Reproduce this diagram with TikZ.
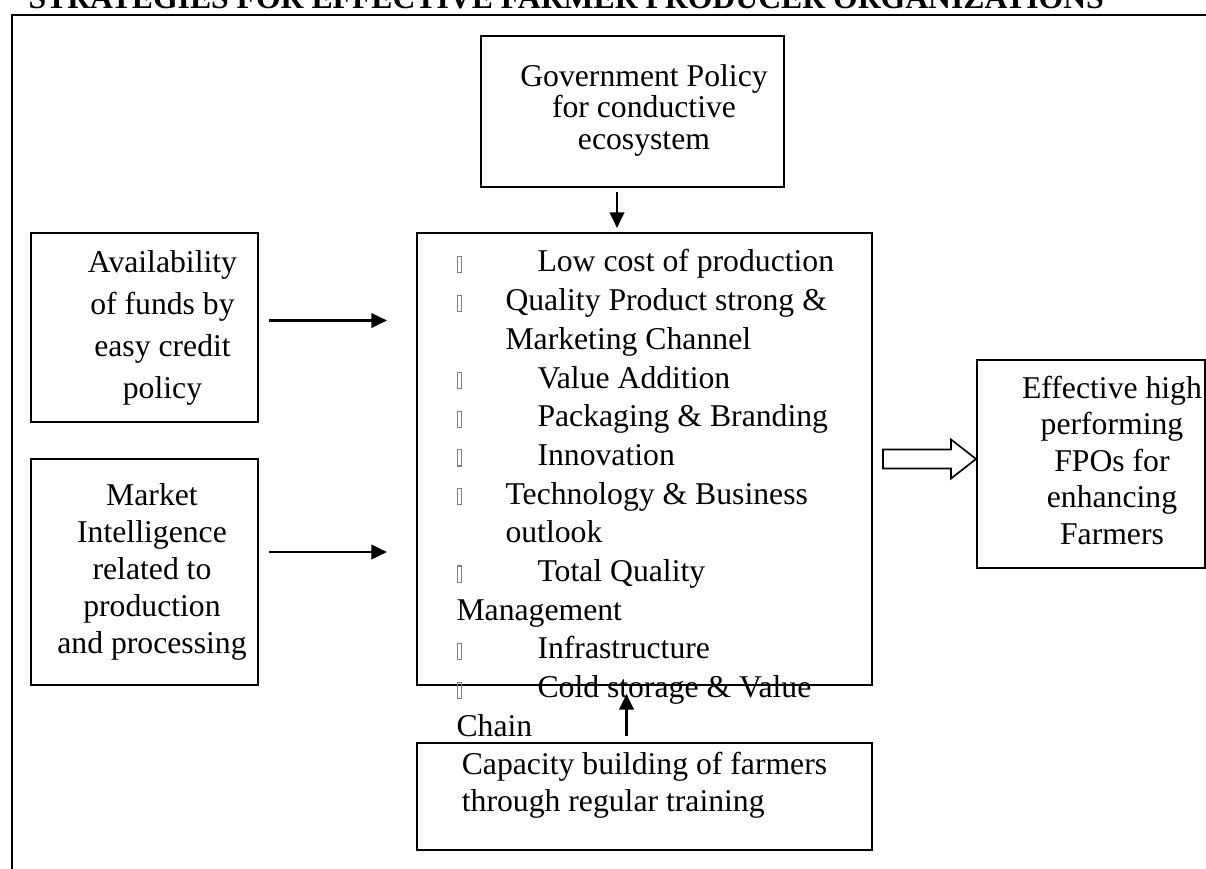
\documentclass[tikz,border=0pt]{standalone}
\usepackage{fontspec}
\setmainfont{Liberation Serif}
\usetikzlibrary{arrows.meta,calc}
\newlength\px
\setlength\px{0.357pt}
\newcommand\blt{{\color{gray}\fboxsep=0pt\fboxrule=0.4pt\fbox{\rule{3\px}{0pt}\rule{0pt}{15\px}}}}
\newcommand\bulletwide{\makebox[81\px][l]{\blt}}
\newcommand\bulletnarrow{\makebox[49\px][l]{\blt}}
\newcommand\shiftedlines[2]{\hspace*{#1}\begin{tabular}{@{}c@{}}#2\end{tabular}}

\begin{document}
\begin{tikzpicture}[x=\px,y=-\px,
	box/.style={draw,line width=0.75pt,inner sep=0pt},
	arr/.style={line width=0.85pt,-{Triangle[length=5.6pt,width=5.2pt]}},
	txt/.style={font=\fontsize{31.7\px}{#1\px}\selectfont}]
		\useasboundingbox (0,0) rectangle (1206,869);
		%%%
		\node[txt=38.7,anchor=base west,inner sep=0pt] (title) at (28,8) {\bfseries STRATEGIES FOR EFFECTIVE FARMER PRODUCER ORGANIZATIONS};
		\draw[line width=1pt] (12,869) |- (1206,15);
		%%%
		\node[box,txt=31.5,minimum width=303\px,minimum height=151\px] (gov) at (632.5,111.5) {\shiftedlines{23\px}{Government Policy\\for conductive\\ecosystem}};
		\node[box,minimum width=455\px,minimum height=452\px] (core) at (644.5,459) {};
		\node[box,txt=42,minimum width=227\px,minimum height=189\px] (avail) at (144.5,327.5) {\shiftedlines{36\px}{\rule{0pt}{10\px}Availability\\of funds by\\easy credit\\policy}};
		\node[box,txt=37.2,minimum width=227\px,minimum height=226\px] (market) at (144.5,572) {\shiftedlines{15\px}{Market\\Intelligence\\related to\\production\\and processing}};
		\node[box,txt=36.5,minimum width=228\px,minimum height=208\px] (fpo) at (1091,464) {\shiftedlines{42\px}{\rule{0pt}{10\px}Effective high\\performing\\FPOs for\\enhancing\\Farmers}};
		\node[box,txt=37,minimum width=455\px,minimum height=107\px] (capacity) at (644.5,796.5) {\begin{tabular}{@{}l@{}}Capacity building of farmers\\through regular training\\[21\px]\end{tabular}};
		\node[txt=38.7,anchor=base west,inner sep=0pt] (strategies) at ($(core.north west)+(40,40)$) {\begin{tabular}[t]{@{}l@{}}
			\bulletwide Low cost of production\\
			\bulletnarrow Quality Product strong \&\\
			\hspace*{49\px}Marketing Channel\\
			\bulletwide Value Addition\\
			\bulletwide Packaging \& Branding\\
			\bulletwide Innovation\\
			\bulletnarrow Technology \& Business\\
			\hspace*{49\px}outlook\\
			\bulletwide Total Quality\\
			Management\\
			\bulletwide Infrastructure\\
			\bulletwide Cold storage \& Value\\
			Chain
		\end{tabular}};
		%%%
		\draw[arr] ($(gov.south)+(-15.5,4)$) -- ($(core.north)+(-27.5,-4)$);
		\draw[arr] ($(avail.east)+(10,-7)$) -- ($(core.west |- avail.east)+(-29,-7)$);
		\draw[arr] ($(market.east)+(10,-20)$) -- ($(core.west |- market.east)+(-29,-20)$);
		\draw[arr] ($(capacity.north)+(-18,-6)$) -- ($(core.south)+(-18,8)$);
		\draw[line width=0.6pt] ($(core.east)+(10,-9.5)$) -- ++(68,0) -- ++(0,-10) -- ++(25,19.5) -- ++(-25,19.5) -- ++(0,-10) -- ++(-68,0) -- cycle;
	\end{tikzpicture}
\end{document}
